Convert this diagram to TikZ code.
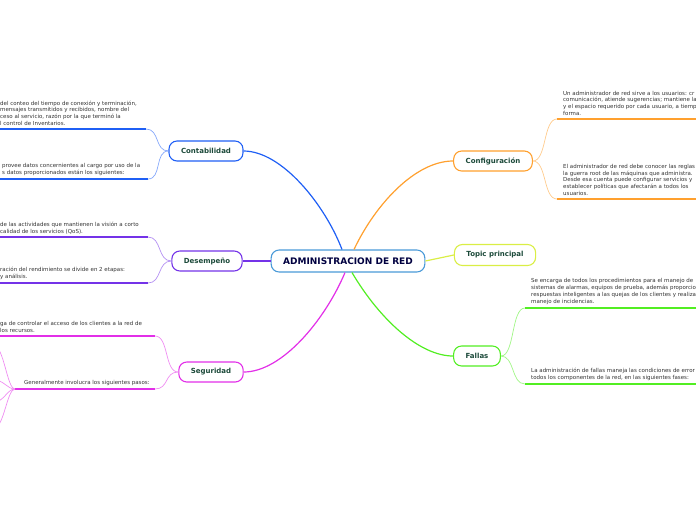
\documentclass[tikz,border=0pt]{standalone}
\usepackage{fontspec}
\setmainfont{DejaVu Sans}
\definecolor{cblue}{HTML}{1F5FF5}
\definecolor{cpurple}{HTML}{7433E8}
\definecolor{cmag}{HTML}{E22FE8}
\definecolor{corange}{HTML}{FFA02E}
\definecolor{cgreen}{HTML}{52EE22}
\definecolor{cyellow}{HTML}{DAEE45}
\definecolor{ccenter}{HTML}{4A9AD8}
\definecolor{ctopic}{HTML}{1C4A3A}
\definecolor{cnote}{HTML}{333333}

\begin{document}
\begin{tikzpicture}[x=1pt,y=-1pt,
  topic/.style={draw=#1,line width=1.1pt,rounded corners=8pt,fill=white,minimum height=20pt,inner xsep=12pt,
    font=\fontsize{7}{8}\selectfont\bfseries,text=ctopic},
  note/.style={align=left,anchor=south west,inner sep=0pt,font=\fontsize{5.5}{6.9}\selectfont,text=cnote},
  branch/.style={draw=#1,line width=1.2pt},
  twig/.style={draw=#1!55,line width=0.7pt},
  under/.style={draw=#1,line width=2pt}]
\useasboundingbox (0,0) rectangle (696,520);
\clip (0,0) rectangle (696,520);

% central topic and main topics
\node[topic=ccenter,minimum height=22pt,font=\fontsize{9}{10}\selectfont\bfseries,text=black!75!blue] (adm) at (348,261) {ADMINISTRACION DE RED};
\node[topic=cblue] (cont) at (206,151) {Contabilidad};
\node[topic=cpurple] (des) at (207,261) {Desempeño};
\node[topic=cmag] (seg) at (211,372) {Seguridad};
\node[topic=corange] (conf) at (493,161) {Configuración};
\node[topic=cyellow,minimum height=21pt] (top) at (495,255) {Topic principal};
\node[topic=cgreen] (fal) at (477,356) {Fallas};

\draw[branch=cblue] ([xshift=-6]adm.north) .. controls (325,205) and (282,151) .. (cont.east);
\draw[branch=corange] ([xshift=6]adm.north) .. controls (375,205) and (415,161) .. (conf.west);
\draw[branch=cpurple] (adm.west) -- (des.east);
\draw[branch=cyellow] (adm.east) -- (top.west);
\draw[branch=cmag] ([xshift=-3]adm.south) .. controls (325,320) and (282,372) .. (seg.east);
\draw[branch=cgreen] ([xshift=4]adm.south) .. controls (380,320) and (420,356) .. (fal.west);

% Contabilidad
\coordinate (ct1) at (146,129); \coordinate (ct1e) at (-2,129);
\coordinate (ct2) at (148,179); \coordinate (ct2e) at (-2,179);
\foreach \c in {ct1,ct2} \draw[twig=cblue] (cont.west) .. controls +(-14,0) and +(14,0) .. (\c);
\draw[under=cblue] (ct1) -- (ct1e);
\draw[under=cblue] (ct2) -- (ct2e);
\node[note] (ct1t) at (0,126) {del conteo del tiempo de conexión y terminación,\\ mensajes transmitidos y recibidos, nombre del\\ ceso al servicio, razón por la que terminó la\\ l control de Inventarios.};
\node[note] (ct2t) at (2,176) {provee datos concernientes al cargo por uso de la\\ s datos proporcionados están los siguientes:};

% Desempeño
\coordinate (ds1) at (148,237); \coordinate (ds1e) at (-2,237);
\coordinate (ds2) at (148,283); \coordinate (ds2e) at (-2,283);
\foreach \c in {ds1,ds2} \draw[twig=cpurple] (des.west) .. controls +(-14,0) and +(14,0) .. (\c);
\draw[under=cpurple] (ds1) -- (ds1e);
\draw[under=cpurple] (ds2) -- (ds2e);
\node[note] (ds1t) at (0,234) {de las actividades que mantienen la visión a corto\\ calidad de los servicios (QoS).};
\node[note] (ds2t) at (0,280) {ración del rendimiento se divide en 2 etapas:\\ y análisis.};

% Seguridad
\coordinate (sg1) at (155,336); \coordinate (sg1e) at (-2,336);
\coordinate (sg2) at (155,389); \coordinate (sg2e) at (15,389);
\foreach \c in {sg1,sg2} \draw[twig=cmag] (seg.west) .. controls +(-14,0) and +(14,0) .. (\c);
\draw[under=cmag] (sg1) -- (sg1e);
\draw[under=cmag] (sg2) -- (sg2e);
\node[note] (sg1t) at (0,333) {ga de controlar el acceso de los clientes a la red de\\ los recursos.};
\node[note] (sg2t) at (24,386) {Generalmente involucra los siguientes pasos:};
\foreach \y [count=\i] in {346,380,402,428} {
  \coordinate (sp\i) at (-6,\y);
  \draw[twig=cmag] (sg2e) .. controls +(-8,0) and +(10,0) .. (sp\i);
}

% Configuración
\coordinate (cf1) at (557,119); \coordinate (cf1e) at (700,119);
\coordinate (cf2) at (557,199); \coordinate (cf2e) at (700,199);
\foreach \c in {cf1,cf2} \draw[twig=corange] (conf.east) .. controls +(14,0) and +(-14,0) .. (\c);
\draw[under=corange] (cf1) -- (cf1e);
\draw[under=corange] (cf2) -- (cf2e);
\node[note] (cf1t) at (563,116) {Un administrador de red sirve a los usuarios: cr\\ comunicación, atiende sugerencias; mantiene la\\ y el espacio requerido por cada usuario, a tiemp\\ forma.};
\node[note] (cf2t) at (563,196) {El administrador de red debe conocer las reglas\\ la guerra root de las máquinas que administra.\\ Desde esa cuenta puede configurar servicios y\\ establecer políticas que afectarán a todos los\\ usuarios.};

% Fallas
\coordinate (fl1) at (525,308); \coordinate (fl1e) at (700,308);
\coordinate (fl2) at (525,384); \coordinate (fl2e) at (700,384);
\foreach \c in {fl1,fl2} \draw[twig=cgreen] (fal.east) .. controls +(14,0) and +(-14,0) .. (\c);
\draw[under=cgreen] (fl1) -- (fl1e);
\draw[under=cgreen] (fl2) -- (fl2e);
\node[note] (fl1t) at (531,305) {Se encarga de todos los procedimientos para el manejo de\\ sistemas de alarmas, equipos de prueba, además proporcio\\ respuestas inteligentes a las quejas de los clientes y realiza\\ manejo de incidencias.};
\node[note] (fl2t) at (531,381) {La administración de fallas maneja las condiciones de error\\ todos los componentes de la red, en las siguientes fases:};
\end{tikzpicture}
\end{document}
